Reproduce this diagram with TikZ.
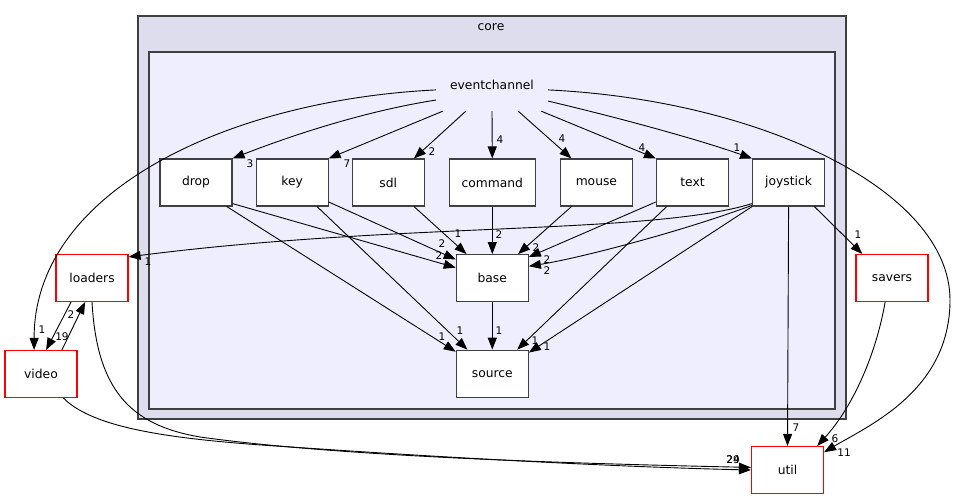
\documentclass[tikz,border=0pt]{standalone}
\usepackage{fontspec}
\setmainfont{DejaVu Sans}
\usetikzlibrary{arrows.meta,positioning}
\definecolor{outerfill}{HTML}{DDDDEE}
\definecolor{innerfill}{HTML}{EEEEFF}
\definecolor{framegray}{HTML}{404040}

\begin{document}
\begin{tikzpicture}[
      x=1pt, y=-1pt,
      every node/.style={font=\fontsize{12.3}{14}\selectfont, inner sep=0pt},
      dirVertex/.style={draw=framegray, fill=white, line width=1.1pt, minimum width=72pt, minimum height=47pt},
      redVertex/.style={draw=red, fill=white, line width=1.1pt, minimum width=72pt, minimum height=47pt},
      dep/.style={draw, line width=0.9pt, -{Triangle[length=12pt, width=9pt]}},  % Style for dependency arrows
      num/.style={font=\fontsize{10.5}{12}\selectfont}
    ]
    \useasboundingbox (0,0) rectangle (956,500);

    % Clusters
    \draw[framegray, fill=outerfill, line width=1.1pt] (138,16) rectangle (846,419);
    \draw[framegray, fill=innerfill, line width=1.1pt] (149,52) rectangle (835,409);
    \node (core) at (491,27) {core};

    % Directories inside the cluster
    \node (ec) [minimum width=112pt, minimum height=52pt] at (492,85) {eventchannel};
    \node[dirVertex] (drop) at (196,182.5) {drop};
    \node[dirVertex] (key) [right=23pt of drop] {key};
    \node[dirVertex] (sdl) [right=23pt of key] {sdl};
    \node[dirVertex, minimum width=86pt] (command) [right=24pt of sdl] {command};
    \node[dirVertex] (mouse) [right=24pt of command] {mouse};
    \node[dirVertex] (text) [right=23pt of mouse] {text};
    \node[dirVertex] (joystick) [right=23pt of text] {joystick};
    \node[dirVertex] (base) [below=47.5pt of command] {base};
    \node[dirVertex] (source) [below=47.5pt of base] {source};

    % Directories outside
    \node[redVertex] (loaders) at (92,278) {loaders};
    \node[redVertex] (video) at (41,374) {video};
    \node[redVertex] (savers) at (892,278) {savers};
    \node[redVertex] (util) at (787.5,470) {util};

    % eventchannel
    \draw[dep] (ec.195) .. controls (360,112) and (285,138) .. (drop.north east);
    \draw[dep] (ec.208) -- (key.north east);
    \draw[dep] (ec.225) -- (sdl.43);
    \draw[dep] (ec.south) -- (command.north);
    \draw[dep] (ec.315) -- (mouse.136);
    \draw[dep] (ec.332) -- (text.north west);
    \draw[dep] (ec.344) .. controls (620,118) and (700,140) .. (joystick.north west);
    \draw[dep] (ec.185) .. controls (230,100) and (34,190) .. (video.106);
    \draw[dep] (ec.355) .. controls (760,100) and (950,190) .. (950,300) .. controls (950,390) and (870,425) .. (util.26);

    % to base and source
    \draw[dep] (drop.-30) -- (base.164);
    \draw[dep] (key.-28) -- (base.153);
    \draw[dep] (sdl.-43) -- (base.137);
    \draw[dep] (command.south) -- (base.north);
    \draw[dep] (mouse.224) -- (base.43);
    \draw[dep] (text.208) -- (base.30);
    \draw[dep] (joystick.212) .. controls (680,232) and (580,258) .. (base.18);
    \draw[dep] (drop.-38) -- (source.149);
    \draw[dep] (key.-44) -- (source.136);
    \draw[dep] (base.south) -- (source.north);
    \draw[dep] (text.223) -- (source.44);
    \draw[dep] (joystick.south west) -- (source.30);

    % joystick, loaders, video, savers, util
    \draw[dep] (joystick.210) .. controls (650,235) and (400,222) .. (loaders.30);
    \draw[dep] (joystick.south) -- (util.north);
    \draw[dep] (joystick.-43) -- (savers.141);
    \draw[dep] (savers.-106) .. controls (875,360) and (850,410) .. (util.39);
    \draw[dep] (loaders.229) -- (video.78);
    \draw[dep] (video.49) -- (loaders.254);
    \draw[dep] (loaders.south) .. controls (97,390) and (130,425) .. (200,437) .. controls (350,458) and (600,464) .. (util.176);
    \draw[dep] (video.-47) .. controls (95,430) and (180,440) .. (291,447) .. controls (450,458) and (620,467) .. (util.west);

    % Edge labels
    \node[num] (n1) at (250,164) {3};
    \node[num] (n2) at (347,164) {7};
    \node[num] (n3) at (432,152) {2};
    \node[num] (n4) at (500,140) {4};
    \node[num] (n5) at (562,139) {4};
    \node[num] (n6) at (642,148) {4};
    \node[num] (n7) at (737,148) {1};
    \node[num] (n8) at (42,330) {1};
    \node[num] (n9) at (844,453) {11};
    \node[num] (n10) at (439,256) {2};
    \node[num] (n11) at (442,244) {2};
    \node[num] (n12) at (458,234) {1};
    \node[num] (n13) at (499,235) {2};
    \node[num] (n14) at (536,248) {2};
    \node[num] (n15) at (547,260) {2};
    \node[num] (n16) at (547,271) {2};
    \node[num] (n17) at (148,262) {1};
    \node[num] (n18) at (442,337) {1};
    \node[num] (n19) at (460,331) {1};
    \node[num] (n20) at (499,331) {1};
    \node[num] (n21) at (535,341) {1};
    \node[num] (n22) at (547,347) {1};
    \node[num] (n23) at (796,428) {7};
    \node[num] (n24) at (858,235) {1};
    \node[num] (n25) at (835,439) {6};
    \node[num] (n26) at (62,337) {19};
    \node[num] (n27) at (71,315) {2};
    \node[num] (n28) at (733,460) {29};
    \node[num] (n29) at (733,460) {24};
\end{tikzpicture}
\end{document}
